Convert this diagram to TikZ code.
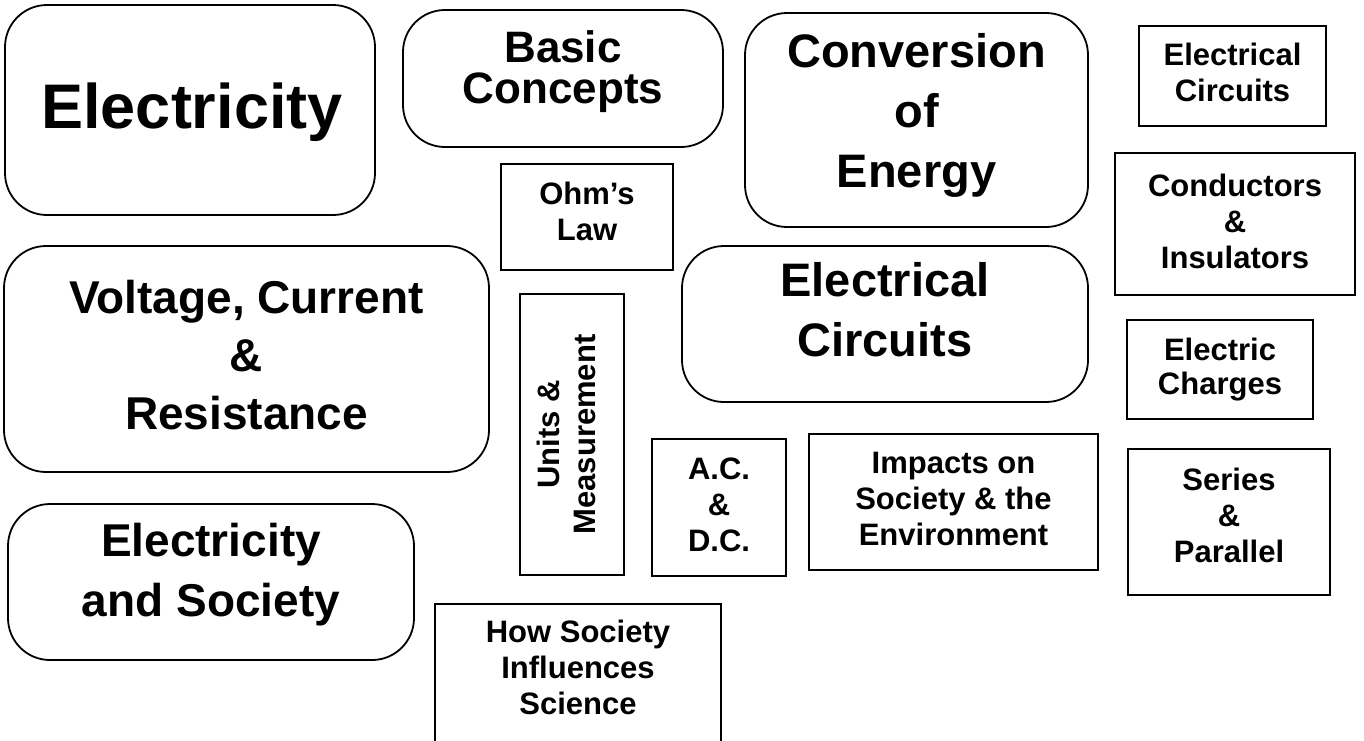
\documentclass[tikz,border=0pt]{standalone}
\usepackage{fontspec}
\setmainfont{Liberation Sans}
\usepackage{tikz}
\tikzstyle{rbox}=[rectangle,rounded corners=42pt,draw=black,line width=1.8pt]
\tikzstyle{sbox}=[rectangle,draw=black,line width=1.8pt]
\tikzstyle{huge}=[font=\fontsize{63}{70}\selectfont\bfseries]
\tikzstyle{mid}=[align=center,font=\fontsize{47}{60}\selectfont\bfseries]
\tikzstyle{small}=[align=center,font=\fontsize{31}{36}\selectfont\bfseries]

\begin{document}
\begin{tikzpicture}[x=1pt,y=-1pt,inner sep=0pt]
	\useasboundingbox (0,0) rectangle (1364,740);
	% big topic boxes
	\node[rbox,minimum width=370,minimum height=210,
		label={[huge,name=elec-t,xshift=2,yshift=-2]center:Electricity}] (elec) at (190,110) {};
	\node[rbox,minimum width=320,minimum height=137,
		label={[mid,name=basic-t,yshift=7,font=\fontsize{44}{41}\selectfont\bfseries]center:Basic\\Concepts}] (basic) at (563,78.5) {};
	\node[rbox,minimum width=343,minimum height=214,
		label={[mid,name=conv-t,yshift=4.5]center:Conversion\\of\\Energy}] (conv) at (916.5,120) {};
	\node[rbox,minimum width=485,minimum height=226,
		label={[mid,name=volt-t,yshift=3.5,font=\fontsize{46}{58}\selectfont\bfseries]center:Voltage, Current\\\&\\Resistance}] (volt) at (246.5,359) {};
	\node[rbox,minimum width=406,minimum height=156,
		label={[mid,name=circ-t,yshift=14.5]center:Electrical\\Circuits}] (circ) at (885,324) {};
	\node[rbox,minimum width=406,minimum height=156,
		label={[mid,name=soc-t,yshift=7.5,font=\fontsize{46}{60}\selectfont\bfseries]center:Electricity\\and Society}] (soc) at (211,582) {};

	% small boxes, middle
	\node[sbox,minimum width=172,minimum height=106,
		label={[small,name=ohm-t,yshift=6]center:Ohm’s\\Law}] (ohm) at (587,217) {};
	\node[sbox,minimum width=104,minimum height=281,
		label={[small,name=units-t,xshift=-6,rotate=90]center:Units \&\\Measurement}] (units) at (572,434.5) {};
	\node[sbox,minimum width=134,minimum height=137,
		label={[small,name=acdc-t,yshift=2.5]center:A.C.\\\&\\D.C.}] (acdc) at (719,507.5) {};
	\node[sbox,minimum width=289,minimum height=136,
		label={[small,name=imp-t,yshift=3]center:Impacts on\\Society \& the\\Environment}] (imp) at (953.5,502) {};
	\node[sbox,minimum width=286,minimum height=146,
		label={[small,name=how-t,yshift=9.5]center:How Society\\Influences\\Science}] (how) at (578,677) {};

	% small boxes, right column
	\node[sbox,minimum width=187,minimum height=100,
		label={[small,name=ecirc-t,yshift=3.5]center:Electrical\\Circuits}] (ecirc) at (1232.5,76) {};
	\node[sbox,minimum width=240,minimum height=142,
		label={[small,name=cond-t,yshift=3]center:Conductors\\\&\\Insulators}] (cond) at (1235,224) {};
	\node[sbox,minimum width=186,minimum height=99,
		label={[small,name=chg-t,font=\fontsize{31}{34}\selectfont\bfseries]center:Electric\\Charges}] (chg) at (1220,369.5) {};
	\node[sbox,minimum width=202,minimum height=146,
		label={[small,name=ser-t,yshift=7]center:Series\\\&\\Parallel}] (ser) at (1229,522) {};
\end{tikzpicture}
\end{document}
